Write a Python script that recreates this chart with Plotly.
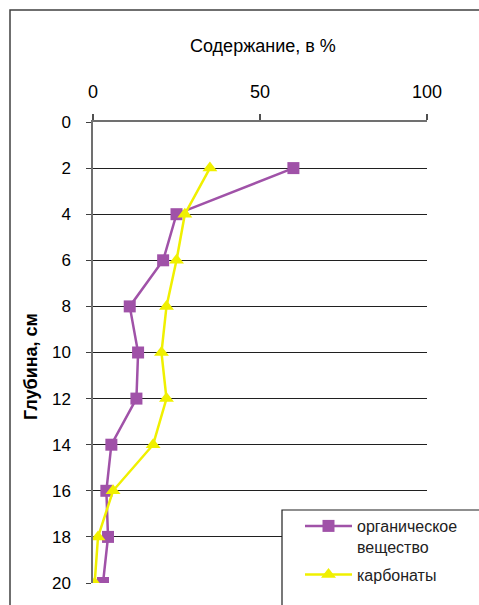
import plotly.graph_objects as go

# Depth profile: organic matter and carbonate content (%) versus depth (cm)
depth = [2, 4, 6, 8, 10, 12, 14, 16, 18, 20]
organic = [60, 25, 21, 11, 13.5, 13, 5.5, 4, 4.5, 3]
carbonates = [35, 27.5, 25, 22, 20.5, 22, 18, 6, 1.5, 0.5]

series_names = ["органическое<br>вещество", "карбонаты"]
x_ticks = [0, 50, 100]
y_ticks = [0, 2, 4, 6, 8, 10, 12, 14, 16, 18, 20]

FONT = "Liberation Sans, Arial, sans-serif"
PURPLE = "#A052A8"
YELLOW = "#F0F000"

W, H = 479, 605
L, R, T, B = 93, 52, 122, 22
pw, ph = W - L - R, H - T - B


def px_x(p):
    return (p - L) / pw


def px_y(p):
    return (H - B - p) / ph


fig = go.Figure()
fig.add_trace(go.Scatter(
    x=organic, y=depth, mode="lines+markers", name=series_names[0],
    legendgroup="org",
    line=dict(color=PURPLE, width=2.5),
    marker=dict(symbol="square", size=12, color=PURPLE),
))
fig.add_trace(go.Scatter(
    x=carbonates, y=depth, mode="lines+markers", name=series_names[1],
    legendgroup="carb",
    line=dict(color=YELLOW, width=2.5),
    marker=dict(symbol="triangle-up", size=13, color=YELLOW),
))

fig.update_layout(
    width=W, height=H,
    margin=dict(l=L, r=R, t=T, b=B),
    paper_bgcolor="white", plot_bgcolor="white",
    font=dict(family=FONT, size=17, color="black"),
    showlegend=True,
    legend=dict(
        x=px_x(300), y=px_y(509), xanchor="left", yanchor="top",
        bgcolor="rgba(0,0,0,0)", borderwidth=0,
        font=dict(family=FONT, size=16, color="#222"),
        itemwidth=47, valign="top",
        traceorder="grouped", tracegroupgap=4,
    ),
    xaxis=dict(
        side="top", range=[0, 100], tickvals=x_ticks,
        showgrid=False, zeroline=False,
        showline=True, linecolor="#707070", linewidth=1.5,
        ticks="outside", ticklen=6, tickcolor="#505050", tickwidth=1.5,
        ticklabelstandoff=9,
        tickfont=dict(family=FONT, size=18, color="black"),
        fixedrange=True,
    ),
    yaxis=dict(
        range=[20, 0], tickvals=y_ticks,
        showgrid=True, gridcolor="#202020", gridwidth=1.2,
        zeroline=False,
        showline=True, linecolor="#707070", linewidth=1.5,
        ticks="outside", ticklen=5, tickcolor="#404040", tickwidth=1.2,
        ticklabelstandoff=12,
        tickfont=dict(family=FONT, size=17, color="black"),
        fixedrange=True,
    ),
    shapes=[
        # outer chart frame
        dict(type="rect", xref="paper", yref="paper",
             x0=px_x(10), y0=px_y(700), x1=px_x(560), y1=px_y(10),
             line=dict(color="#404040", width=1.5), fillcolor="rgba(0,0,0,0)",
             layer="below"),
        # legend frame
        dict(type="rect", xref="paper", yref="paper",
             x0=px_x(282), y0=px_y(700), x1=px_x(560), y1=px_y(510),
             line=dict(color="#202020", width=1.2), fillcolor="white",
             layer="above"),
    ],
    annotations=[
        dict(text="Содержание, в %", xref="paper", yref="paper",
             x=px_x(263), y=px_y(46), xanchor="center", yanchor="middle",
             showarrow=False, font=dict(family=FONT, size=18, color="black")),
        dict(text="<b>Глубина, см</b>", xref="paper", yref="paper",
             x=px_x(31), y=px_y(367), xanchor="center", yanchor="middle",
             textangle=-90, showarrow=False,
             font=dict(family=FONT, size=18, color="black")),
    ],
)

fig.write_html("out.html")
